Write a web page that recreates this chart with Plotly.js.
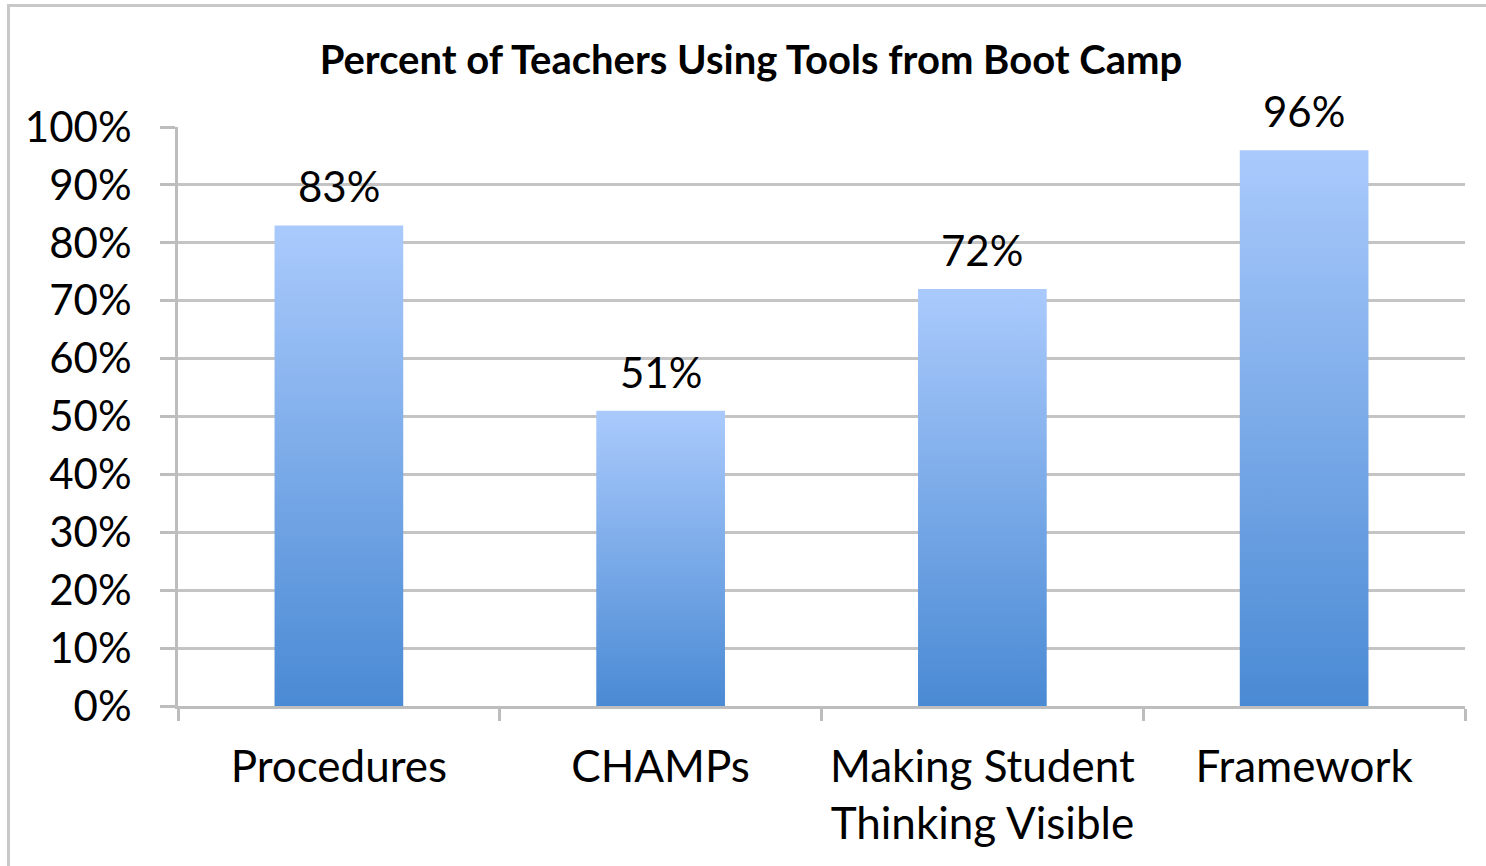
<!DOCTYPE html>
<html>
<head>
<meta charset="utf-8">
<script src="https://cdn.plot.ly/plotly-3.0.1.min.js"></script>
<style>
  html, body { margin: 0; padding: 0; background: #fff; overflow: hidden; }
  #frame { position: absolute; left: 7px; top: 4px; width: 1600px; height: 1000px;
           border-left: 3px solid #c8c8c8; border-top: 3px solid #c8c8c8; }
  #chart { position: absolute; left: 0; top: 0; width: 1486px; height: 866px; }
</style>
</head>
<body>
<div id="frame"></div>
<div id="chart"></div>
<script>
const categories = ["Procedures", "CHAMPs", "Making Student<br>Thinking Visible", "Framework"];
const values = [0.83, 0.51, 0.72, 0.96];
const yTickValues = [0, 0.1, 0.2, 0.3, 0.4, 0.5, 0.6, 0.7, 0.8, 0.9, 1.0];
const yTickLabels = ["0%", "10%", "20%", "30%", "40%", "50%", "60%", "70%", "80%", "90%", "100%"];
const chartTitle = "Percent of Teachers Using Tools from Boot Camp";

const FONT = "Lato, 'Open Sans', sans-serif";

const trace = {
  type: "bar",
  x: categories,
  y: values,
  marker: { color: "#7aaae8", line: { width: 0 } },
  hoverinfo: "skip"
};

const annotations = categories.map((c, i) => ({
  x: c, y: values[i], xref: "x", yref: "y",
  text: Math.round(values[i] * 100) + "%",
  showarrow: false, yanchor: "bottom", yshift: 12,
  font: { family: FONT, size: 42, color: "#000" }
}));

const layout = {
  width: 1486, height: 866,
  paper_bgcolor: "rgba(0,0,0,0)", plot_bgcolor: "rgba(0,0,0,0)",
  margin: { l: 178, r: 21, t: 127, b: 160 },
  bargap: 0.6,
  showlegend: false,
  title: {
    text: "<b>" + chartTitle + "</b>",
    font: { family: FONT, size: 40, color: "#000", weight: 900 },
    x: 751 / 1486, xref: "container", xanchor: "center",
    y: 1 - 60 / 866, yref: "container", yanchor: "middle"
  },
  xaxis: {
    type: "category",
    showline: true, linecolor: "#bdbdbd", linewidth: 3,
    ticks: "outside", tickson: "boundaries", ticklen: 12, tickwidth: 3, tickcolor: "#bdbdbd",
    showgrid: false,
    tickfont: { family: FONT, size: 44, color: "#000" },
    ticklabelstandoff: 20,
    fixedrange: true
  },
  yaxis: {
    range: [0, 1],
    tickvals: yTickValues, ticktext: yTickLabels,
    showline: true, linecolor: "#bdbdbd", linewidth: 3,
    ticks: "outside", ticklen: 15, tickwidth: 3, tickcolor: "#bdbdbd",
    showgrid: true, gridcolor: "#c4c4c4", gridwidth: 3,
    zeroline: false,
    tickfont: { family: FONT, size: 42, color: "#000" },
    ticklabelstandoff: 20,
    fixedrange: true
  },
  annotations: annotations
};

Plotly.newPlot("chart", [trace], layout, { staticPlot: true, displayModeBar: false }).then(gd => {
  const svg = gd.querySelector("svg.main-svg");
  let defs = svg.querySelector("defs");
  if (!defs) { defs = document.createElementNS("http://www.w3.org/2000/svg", "defs"); svg.insertBefore(defs, svg.firstChild); }
  const ns = "http://www.w3.org/2000/svg";
  const grad = document.createElementNS(ns, "linearGradient");
  grad.setAttribute("id", "barGrad");
  grad.setAttribute("x1", "0"); grad.setAttribute("y1", "0");
  grad.setAttribute("x2", "0"); grad.setAttribute("y2", "1");
  [["0", "#aacafc"], ["1", "#4a8ad4"]].forEach(([o, c]) => {
    const s = document.createElementNS(ns, "stop");
    s.setAttribute("offset", o); s.setAttribute("stop-color", c);
    grad.appendChild(s);
  });
  defs.appendChild(grad);
  gd.querySelectorAll(".trace.bars .point path").forEach(p => {
    p.style.fill = "url(#barGrad)";
    p.style.fillOpacity = 1;
  });
});
</script>
</body>
</html>
